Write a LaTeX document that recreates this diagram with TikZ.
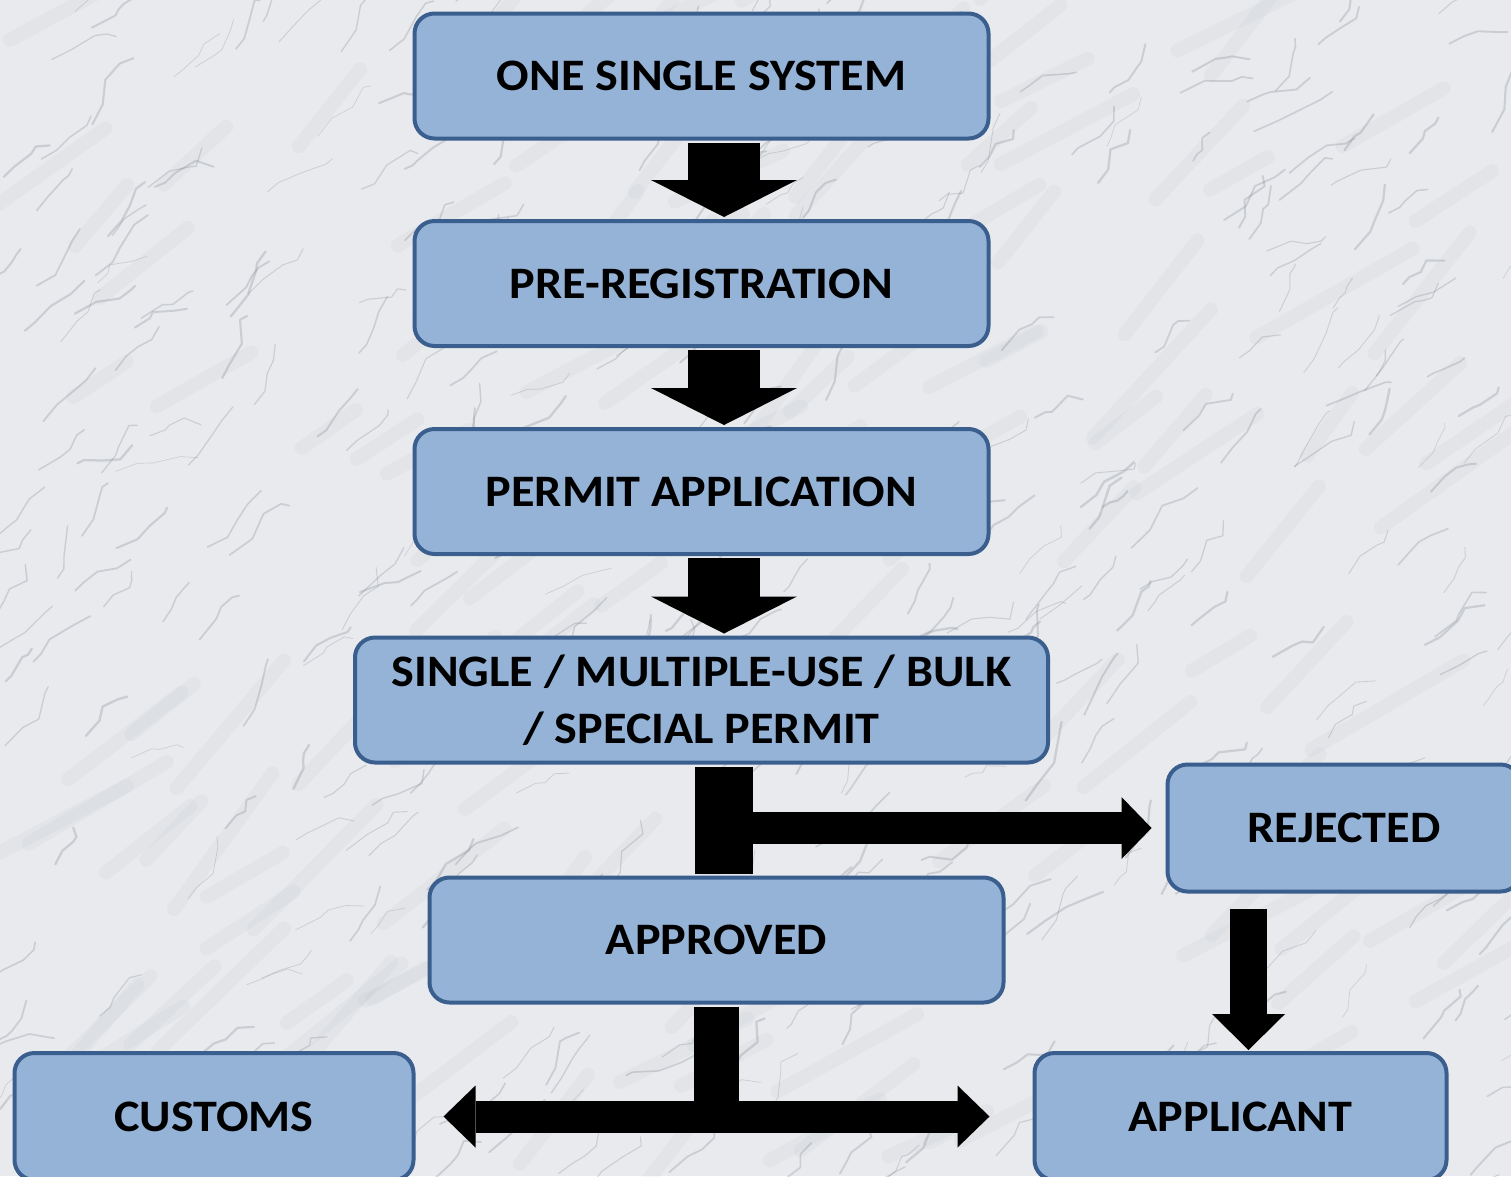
\documentclass[tikz,border=0pt]{standalone}
\usepackage{fontspec}
\setmainfont{Carlito}[FakeStretch=1.07]
\usetikzlibrary{arrows.meta,calc}
\definecolor{boxfill}{HTML}{95B3D7}
\definecolor{boxline}{HTML}{3A5F8F}
\definecolor{marble}{HTML}{E8EAED}
\definecolor{vein}{HTML}{7E838C}
\tikzset{
  box/.style={rectangle, rounded corners=20pt, fill=boxfill, draw=boxline, line width=4pt,
    font=\bfseries\fontsize{45}{57}\selectfont, align=center, inner sep=0pt,
    text height=29pt, text depth=0pt, minimum height=125pt},
  boxtwo/.style={rectangle, rounded corners=20pt, fill=boxfill, draw=boxline, line width=4pt,
    font=\bfseries\fontsize{45}{57}\selectfont, align=center, inner sep=0pt, minimum height=125pt},
  bigdown/.style={draw=black, line width=72pt, -{Triangle[width=146pt,length=37pt,line width=0pt]}},
  smallright/.style={draw=black, line width=32pt, -{Triangle[width=62pt,length=30pt,line width=0pt]}},
  rejdown/.style={draw=black, line width=37pt, -{Triangle[width=73pt,length=36pt,line width=0pt]}},
  twoway/.style={draw=black, line width=32pt, {Triangle[width=62pt,length=32pt,line width=0pt]}-{Triangle[width=62pt,length=32pt,line width=0pt]}},
  trunk/.style={draw=black},
}
\begin{document}
\begin{tikzpicture}[x=1pt,y=-1pt]
\useasboundingbox (0,0) rectangle (1511,1176);
\clip (0,0) rectangle (1511,1176);
% marble background
\fill[marble] (0,0) rectangle (1511,1176);
\pgfmathsetseed{7}
\foreach \i in {1,...,140}{
  \pgfmathsetmacro{\xa}{rnd*1560-20}
  \pgfmathsetmacro{\ya}{rnd*1220-20}
  \pgfmathsetmacro{\an}{-25-rnd*30}
  \pgfmathsetmacro{\le}{60+rnd*120}
  \draw[vein, line width=14pt, opacity=0.05, line cap=round] (\xa,\ya) -- ++(\an:\le);
}
\foreach \i in {1,...,420}{
  \pgfmathsetmacro{\xa}{rnd*1560-20}
  \pgfmathsetmacro{\ya}{rnd*1220-20}
  \pgfmathsetmacro{\an}{-20-rnd*45}
  \pgfmathsetmacro{\ab}{\an-35+rnd*70}
  \pgfmathsetmacro{\ac}{\an-35+rnd*70}
  \pgfmathsetmacro{\ad}{\an-50+rnd*100}
  \pgfmathsetmacro{\la}{6+rnd*22}
  \pgfmathsetmacro{\lb}{6+rnd*22}
  \pgfmathsetmacro{\lc}{6+rnd*22}
  \pgfmathsetmacro{\ld}{4+rnd*16}
  \pgfmathsetmacro{\lw}{0.6+rnd*1.8}
  \draw[vein, line width=\lw pt, opacity=0.28, line cap=round, line join=round]
    (\xa,\ya) -- ++(\an:\la) -- ++(\ab:\lb) -- ++(\ac:\lc) -- ++(\ad:\ld);
}
% boxes
\node[box, minimum width=574pt] (sys)  at (701.5,76)    {ONE SINGLE SYSTEM};
\node[box, minimum width=574pt] (pre)  at (701.5,283.5) {PRE-REGISTRATION};
\node[box, minimum width=574pt] (perm) at (701.5,491.5) {PERMIT APPLICATION};
\node[boxtwo, minimum width=693pt] (kind) at (701.5,700) {SINGLE / MULTIPLE-USE / BULK\\/ SPECIAL PERMIT};
\node[box, minimum width=353pt, minimum height=127pt] (rej) at (1344,828) {REJECTED};
\node[box, minimum width=574pt] (appr) at (716.5,940) {APPROVED};
\node[box, minimum width=399pt, minimum height=127pt] (cust) at (214,1116.5) {CUSTOMS};
\node[box, minimum width=412pt, minimum height=127pt] (appl) at (1240.5,1116.5) {APPLICANT};
% connectors
\coordinate (cx) at (724,0);
\coordinate (rx) at (1248.5,0);
\draw[bigdown] ([yshift=-2pt]sys.south -| cx) -- ([yshift=2pt]pre.north -| cx);
\draw[bigdown] ([yshift=-2pt]pre.south -| cx) -- ([yshift=2pt]perm.north -| cx);
\draw[bigdown] ([yshift=-2pt]perm.south -| cx) -- ([yshift=2pt]kind.north -| cx);
\draw[trunk, line width=58pt] ([yshift=-2pt]kind.south -| cx) -- ([yshift=2pt]appr.north -| cx);
\draw[smallright] (rej.west -| cx) -- ([xshift=-14pt]rej.west);
\draw[rejdown] ([yshift=-15pt]rej.south -| rx) -- ([yshift=1pt]appl.north -| rx);
\draw[trunk, line width=45pt] ([yshift=-2pt]appr.south) -- (appr.south |- cust.east);
\draw[twoway] ([xshift=28pt]cust.east) -- ([xshift=-43pt]appl.west);
\end{tikzpicture}
\end{document}
